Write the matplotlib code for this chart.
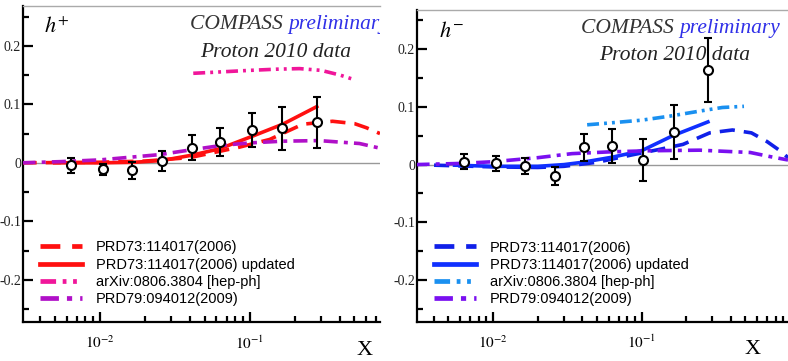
import numpy as np
import matplotlib
matplotlib.use("Agg")
import matplotlib.pyplot as plt
from matplotlib.ticker import FixedLocator, FuncFormatter, NullFormatter

plt.rcParams['font.family'] = ['Liberation Serif', 'DejaVu Serif']
plt.rcParams['mathtext.fontset'] = 'stix'

# COMPASS proton 2010 asymmetries, h+ and h-
x_pts = [0.0064, 0.0105, 0.0165, 0.026, 0.041, 0.063, 0.103, 0.165, 0.28]
hp_y = [-0.004, -0.011, -0.013, 0.003, 0.026, 0.036, 0.056, 0.059, 0.069]
hp_err = [0.013, 0.009, 0.015, 0.017, 0.021, 0.024, 0.029, 0.037, 0.043]
hm_y = [0.005, 0.002, -0.003, -0.020, 0.030, 0.032, 0.008, 0.056, 0.164]
hm_err = [0.013, 0.013, 0.014, 0.016, 0.023, 0.029, 0.037, 0.047, 0.055]

labels = ['PRD73:114017(2006)', 'PRD73:114017(2006) updated',
          'arXiv:0806.3804 [hep-ph]', 'PRD79:094012(2009)']

# model curves, h+
hp_prd73_x = [0.003, 0.01, 0.02, 0.04, 0.086, 0.136, 0.226, 0.357, 0.5, 0.6, 0.74]
hp_prd73_y = [0.0, 0.001, 0.003, 0.009, 0.027, 0.040, 0.066, 0.071, 0.067, 0.060, 0.050]
hp_upd_x = [0.005, 0.01, 0.017, 0.026, 0.041, 0.063, 0.103, 0.166, 0.28]
hp_upd_y = [0.0, 0.0, 0.001, 0.004, 0.013, 0.024, 0.045, 0.066, 0.096]
hp_arx_x = [0.042, 0.06, 0.1, 0.15, 0.215, 0.3, 0.4, 0.5]
hp_arx_y = [0.153, 0.155, 0.158, 0.160, 0.161, 0.158, 0.150, 0.142]
hp_prd79_x = [0.003, 0.0054, 0.01, 0.025, 0.04, 0.066, 0.1, 0.166, 0.29, 0.54, 0.74]
hp_prd79_y = [0.0, 0.002, 0.005, 0.014, 0.022, 0.030, 0.034, 0.037, 0.038, 0.033, 0.025]

# model curves, h-
hm_prd73_x = [0.004, 0.01, 0.02, 0.03, 0.05, 0.087, 0.13, 0.19, 0.288, 0.41, 0.55, 0.7, 0.88, 0.97]
hm_prd73_y = [-0.001, -0.004, -0.005, -0.003, 0.004, 0.017, 0.026, 0.035, 0.055, 0.060, 0.055, 0.040, 0.022, 0.012]
hm_upd_x = [0.0055, 0.01, 0.02, 0.03, 0.04, 0.064, 0.1, 0.162, 0.28]
hm_upd_y = [-0.001, -0.003, -0.003, 0.0, 0.004, 0.013, 0.024, 0.050, 0.074]
hm_arx_x = [0.043, 0.06, 0.1, 0.155, 0.25, 0.35, 0.49]
hm_arx_y = [0.069, 0.072, 0.077, 0.084, 0.093, 0.099, 0.101]
hm_prd79_x = [0.003, 0.006, 0.01, 0.02, 0.034, 0.06, 0.113, 0.246, 0.54, 0.73, 0.97]
hm_prd79_y = [0.0, 0.002, 0.005, 0.012, 0.019, 0.022, 0.024, 0.025, 0.021, 0.014, 0.008]

DASH = (0, (4.2, 2.5))
DASHDOTDOT = (0, (3.3, 1.4, 0.8, 1.4, 0.8, 1.4))
DASHDOT = (0, (3.9, 1.7, 1.1, 1.7))

fig = plt.figure(figsize=(7.88, 3.61), dpi=100)
ax1 = fig.add_axes([23/788, 39/361, 357/788, 316/361])
ax2 = fig.add_axes([417/788, 39.5/361, 371/788, 311.5/361])


def style_axes(ax, xmax, xlab_pos):
    ax.set_xscale('log')
    ax.set_xlim(0.00307, xmax)
    ax.set_ylim(-0.272, 0.268)
    ax.axhline(0, color='#999999', lw=1, zorder=1)
    ax.spines['right'].set_visible(False)
    ax.spines['top'].set_color('#aaaaaa')
    ax.spines['top'].set_linewidth(1)
    ax.spines['left'].set_linewidth(1.6)
    ax.spines['bottom'].set_linewidth(1.6)
    ax.yaxis.set_major_locator(FixedLocator([-0.2, -0.1, 0, 0.1, 0.2]))
    ax.yaxis.set_minor_locator(FixedLocator([-0.25, -0.15, -0.05, 0.05, 0.15, 0.25]))
    ax.yaxis.set_major_formatter(FuncFormatter(lambda v, p: '0' if abs(v) < 1e-9 else '%g' % v))
    ax.xaxis.set_major_locator(FixedLocator([0.01, 0.1]))
    minors = [m * 10.0**e for e in (-3, -2, -1) for m in range(2, 10)]
    ax.xaxis.set_minor_locator(FixedLocator(minors))
    ax.xaxis.set_minor_formatter(NullFormatter())
    ax.xaxis.set_major_formatter(FuncFormatter(lambda v, p: r'$10^{%d}$' % round(np.log10(v))))
    ax.tick_params(which='both', direction='in', width=1.6,
                   top=False, right=False, colors='black')
    ax.tick_params(which='major', length=7)
    ax.tick_params(which='minor', length=4.5)
    ax.tick_params(axis='x', which='major', pad=9, labelsize=11)
    ax.tick_params(axis='y', which='major', pad=1.5, labelsize=10,
                   labelcolor='#222222')
    ax.text(xlab_pos, -0.105, 'X', transform=ax.transAxes, fontsize=16,
            ha='right', va='baseline')


def add_title(ax, xs, ys, xp, yp):
    t = ax.text(xs, ys, 'COMPASS ', transform=ax.transAxes, fontsize=15.5,
                style='italic', color='#333333', ha='left', va='center')
    t2 = ax.annotate('preliminary', xy=(1, 0), xycoords=t, fontsize=15.5,
                     style='italic', color='#3030e8', ha='left', va='bottom')
    t3 = ax.text(xp, yp, 'Proton 2010 data', transform=ax.transAxes,
                 fontsize=15.5, style='italic', color='#222222',
                 ha='left', va='center')
    for a in (t, t2, t3):
        a.set_clip_box(ax.bbox)
        a.set_clip_on(True)


def draw_panel(ax, y, err, curves, colors, tag, leg_xy):
    lw = 2.6
    styles = [DASH, '-', DASHDOTDOT, DASHDOT]
    handles = []
    for (cx, cy), c, ls, lab in zip(curves, colors, styles, labels):
        h, = ax.plot(cx, cy, color=c, lw=lw, ls=ls, label=lab, zorder=3)
        handles.append(h)
    ax.errorbar(x_pts, y, yerr=err, fmt='o', ms=6.5, mfc='white', mec='black',
                mew=1.5, ecolor='black', elinewidth=1.5, capsize=3,
                capthick=1.5, zorder=4)
    ax.text(0.06, 0.93, tag, transform=ax.transAxes, fontsize=16,
            ha='left', va='center')
    leg = ax.legend(handles=handles, loc='upper left', bbox_to_anchor=leg_xy,
                    frameon=False, borderpad=0, borderaxespad=0,
                    handlelength=2.9, handletextpad=0.95, labelspacing=0.22,
                    prop={'family': 'Liberation Sans', 'size': 10.5})
    for line in leg.get_lines():
        line.set_linewidth(3.4)


style_axes(ax1, 0.74, 0.978)
style_axes(ax2, 0.97, 0.925)

draw_panel(ax1, hp_y, hp_err,
           [(hp_prd73_x, hp_prd73_y), (hp_upd_x, hp_upd_y),
            (hp_arx_x, hp_arx_y), (hp_prd79_x, hp_prd79_y)],
           ['#ff1010', '#ff1010', '#f0169a', '#b010c8'],
           r'$h^{+}$', (0.0476, 0.258))
draw_panel(ax2, hm_y, hm_err,
           [(hm_prd73_x, hm_prd73_y), (hm_upd_x, hm_upd_y),
            (hm_arx_x, hm_arx_y), (hm_prd79_x, hm_prd79_y)],
           ['#1020e8', '#1030ff', '#1a90f0', '#7a10f0'],
           r'$h^{-}$', (0.0458, 0.26))

add_title(ax1, 0.468, 0.94, 0.496, 0.854)
add_title(ax2, 0.442, 0.942, 0.491, 0.855)

fig.savefig('out.png', dpi=100)
